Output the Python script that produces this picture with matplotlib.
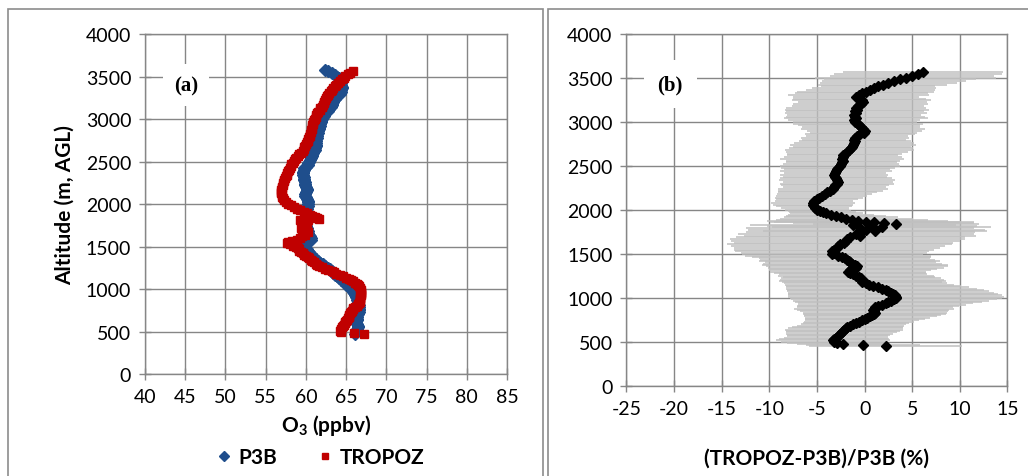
import matplotlib.pyplot as plt
from matplotlib.lines import Line2D
from matplotlib.patches import Rectangle

plt.rcParams['font.family'] = ['Lato', 'DejaVu Sans']
plt.rcParams['axes.unicode_minus'] = False
plt.rcParams['mathtext.fontset'] = 'custom'
plt.rcParams['mathtext.rm'] = 'Lato'
plt.rcParams['mathtext.bf'] = 'Lato:bold'

# ---- panel (a): O3 profiles (altitude m, ppbv) ----
p3b_alt = [3580, 3560, 3540, 3520, 3500, 3480, 3460, 3440, 3420, 3400, 3380, 3360, 3340, 3320, 3300,
           3280, 3260, 3240, 3220, 3200, 3180, 3160, 3140, 3120, 3100, 3080, 3060, 3040, 3020, 3000,
           2980, 2960, 2940, 2920, 2900, 2880, 2860, 2840, 2820, 2800, 2780, 2760, 2740, 2720, 2700,
           2680, 2660, 2640, 2620, 2600, 2580, 2560, 2540, 2520, 2500, 2480, 2460, 2440, 2420, 2400,
           2380, 2360, 2340, 2320, 2300, 2280, 2260, 2240, 2220, 2200, 2180, 2160, 2140, 2120, 2100,
           2080, 2060, 2040, 2020, 2000, 1980, 1960, 1940, 1920, 1900, 1880, 1860, 1840, 1820, 1800,
           1780, 1760, 1740, 1720, 1700, 1680, 1660, 1640, 1620, 1600, 1580, 1560, 1545, 1530, 1510,
           1490, 1470, 1450, 1430, 1410, 1390, 1370, 1350, 1330, 1310, 1290, 1270, 1250, 1230, 1210,
           1190, 1170, 1150, 1130, 1110, 1090, 1070, 1050, 1030, 1010, 990, 970, 950, 930, 910,
           890, 870, 850, 830, 810, 790, 770, 750, 730, 710, 690, 670, 650, 630, 610,
           590, 570, 550, 530, 510, 490, 470]
p3b_o3 = [62.4, 62.8, 63.2, 63.6, 63.9, 64.1, 64.2, 64.1, 64.3, 64.4, 64.5, 64.5, 64.4, 64.3, 64.2,
          64.0, 63.8, 63.6, 63.5, 63.4, 63.3, 63.2, 63.1, 62.9, 62.7, 62.5, 62.3, 62.2, 62.1, 62.0,
          61.9, 61.9, 61.8, 61.7, 61.6, 61.6, 61.5, 61.5, 61.4, 61.4, 61.4, 61.3, 61.3, 61.2, 61.2,
          61.2, 61.1, 61.1, 61.0, 60.9, 60.8, 60.7, 60.6, 60.5, 60.4, 60.3, 60.2, 60.0, 59.8, 59.7,
          59.6, 59.6, 59.6, 59.7, 59.7, 59.8, 59.9, 59.9, 59.9, 60.0, 60.1, 60.1, 60.0, 59.9, 59.9,
          60.0, 60.1, 60.2, 60.3, 60.2, 60.2, 60.1, 60.1, 60.0, 60.0, 60.1, 60.1, 60.0, 60.0, 60.0,
          59.9, 60.0, 60.0, 60.1, 60.1, 60.2, 60.3, 60.4, 60.5, 60.6, 60.6, 60.0, 59.4, 59.6, 59.8,
          59.9, 60.1, 60.2, 60.4, 60.6, 60.8, 61.0, 61.2, 61.5, 61.8, 62.1, 62.4, 62.7, 63.0, 63.2,
          63.4, 63.6, 63.9, 64.1, 64.4, 64.6, 64.8, 65.0, 65.2, 65.5, 65.7, 65.9, 66.0, 66.1, 66.2,
          66.3, 66.4, 66.5, 66.5, 66.6, 66.6, 66.6, 66.6, 66.6, 66.5, 66.4, 66.4, 66.4, 66.3, 66.2,
          66.3, 66.5, 66.5, 66.4, 66.3, 66.2, 66.1]

tropoz_alt = [3565, 3545, 3525, 3505, 3485, 3465, 3445, 3425, 3405, 3385, 3365, 3345, 3325, 3305, 3285,
              3265, 3245, 3225, 3205, 3185, 3165, 3145, 3125, 3105, 3085, 3065, 3045, 3025, 3005, 2985,
              2965, 2945, 2925, 2905, 2885, 2865, 2845, 2825, 2805, 2785, 2765, 2745, 2725, 2705, 2685,
              2665, 2645, 2625, 2605, 2585, 2565, 2545, 2525, 2505, 2485, 2465, 2445, 2425, 2405, 2385,
              2365, 2345, 2325, 2305, 2285, 2265, 2245, 2225, 2205, 2185, 2165, 2145, 2125, 2105, 2085,
              2065, 2045, 2025, 2005, 1985, 1965, 1945, 1925, 1905, 1890, 1875, 1860, 1845, 1830, 1820,
              1815, 1810, 1795, 1785, 1765, 1750, 1735, 1720, 1705, 1690, 1675, 1660, 1640, 1620, 1600,
              1580, 1565, 1550, 1540, 1525, 1510, 1495, 1480, 1465, 1450, 1435, 1420, 1405, 1390, 1375,
              1360, 1345, 1330, 1315, 1300, 1285, 1270, 1255, 1240, 1225, 1210, 1195, 1180, 1165, 1150,
              1135, 1120, 1105, 1090, 1075, 1060, 1045, 1030, 1015, 1000, 985, 970, 955, 940, 925,
              910, 895, 880, 865, 850, 835, 820, 805, 790, 775, 760, 745, 730, 715, 700,
              685, 670, 655, 640, 625, 610, 595, 580, 565, 550, 535, 520, 505, 490, 480, 465]
tropoz_o3 = [65.8, 65.5, 65.2, 64.9, 64.7, 64.5, 64.2, 64.0, 63.8, 63.6, 63.4, 63.3, 63.1, 62.9, 62.8,
             62.6, 62.5, 62.4, 62.3, 62.2, 62.1, 62.0, 61.8, 61.7, 61.5, 61.4, 61.3, 61.2, 61.1, 61.0,
             60.9, 60.9, 60.8, 60.8, 60.7, 60.6, 60.6, 60.5, 60.5, 60.4, 60.3, 60.2, 60.1, 60.0, 59.9,
             59.8, 59.7, 59.6, 59.4, 59.2, 59.0, 58.8, 58.6, 58.5, 58.4, 58.2, 58.1, 58.0, 57.9, 57.8,
             57.7, 57.6, 57.5, 57.4, 57.3, 57.3, 57.2, 57.1, 57.0, 57.0, 56.9, 56.9, 56.9, 57.0, 57.0,
             57.1, 57.3, 57.5, 57.8, 58.1, 58.5, 58.9, 59.3, 59.7, 60.1, 60.5, 60.8, 61.1, 61.4, 61.6,
             60.3, 59.3, 59.6, 60.0, 59.5, 60.1, 59.8, 59.4, 60.0, 59.7, 60.2, 59.6, 59.9, 59.5, 59.3,
             58.9, 58.3, 57.8, 57.6, 58.0, 58.4, 58.8, 59.0, 59.1, 59.2, 59.4, 59.6, 59.8, 60.0, 60.2,
             60.4, 60.6, 60.8, 61.0, 61.2, 61.4, 61.6, 62.0, 62.4, 62.8, 63.2, 63.5, 63.8, 64.2, 64.6,
             65.0, 65.3, 65.6, 65.9, 66.1, 66.3, 66.5, 66.6, 66.7, 66.7, 66.8, 66.8, 66.8, 66.8, 66.8,
             66.7, 66.7, 66.7, 66.7, 66.7, 66.6, 66.5, 66.3, 66.1, 65.9, 65.8, 65.7, 65.6, 65.5, 65.4,
             65.3, 65.3, 65.2, 65.1, 65.0, 64.9, 64.8, 64.7, 64.6, 64.5, 64.4, 64.3, 64.2, 64.4, 66.0, 67.2]

# ---- panel (b): relative difference (%) with uncertainty ----
diff_alt = [3565, 3545, 3525, 3505, 3485, 3465, 3445, 3425, 3405, 3385, 3365, 3345, 3325, 3305, 3285,
            3265, 3245, 3225, 3200, 3180, 3160, 3140, 3120, 3100, 3080, 3060, 3040, 3020, 3000, 2980,
            2960, 2940, 2920, 2900, 2880, 2860, 2840, 2820, 2800, 2780, 2760, 2740, 2720, 2700, 2680,
            2660, 2640, 2620, 2600, 2580, 2560, 2540, 2520, 2500, 2480, 2460, 2440, 2420, 2400, 2380,
            2360, 2340, 2320, 2300, 2280, 2260, 2240, 2220, 2200, 2180, 2160, 2140, 2120, 2100, 2080,
            2060, 2040, 2020, 2005, 1990, 1975, 1960, 1945, 1930, 1915, 1900, 1885, 1870, 1865, 1860,
            1850, 1840, 1830, 1820, 1805, 1790, 1775, 1760, 1745, 1725, 1705, 1690, 1670, 1650, 1630,
            1610, 1590, 1570, 1550, 1530, 1510, 1495, 1480, 1465, 1450, 1435, 1420, 1405, 1390, 1375,
            1360, 1345, 1330, 1315, 1300, 1285, 1270, 1255, 1240, 1225, 1210, 1195, 1180, 1165, 1150,
            1135, 1120, 1105, 1090, 1075, 1060, 1045, 1030, 1015, 1000, 985, 970, 955, 940, 925,
            910, 895, 880, 865, 850, 835, 820, 805, 790, 775, 760, 745, 730, 715, 700,
            685, 670, 655, 640, 625, 610, 595, 580, 565, 550, 535, 520, 505, 490, 475, 465, 450]
diff_pct = [6.1, 5.6, 5.0, 4.3, 3.7, 3.1, 2.5, 1.9, 1.4, 1.0, 0.6, 0.1, -0.3, -0.6, -0.9,
            -0.5, -0.3, -0.2, -0.4, -0.7, -0.9, -0.8, -1.0, -0.9, -1.1, -1.0, -0.9, -1.1, -1.0, -0.7,
            -0.6, -0.4, -0.2, 0.0, -0.1, -0.5, -0.8, -1.0, -1.1, -1.0, -1.1, -1.2, -1.3, -1.4, -1.6,
            -1.8, -2.1, -2.3, -2.3, -2.4, -2.3, -2.4, -2.5, -2.6, -2.8, -2.9, -3.0, -3.1, -3.2, -3.1,
            -3.0, -2.9, -2.8, -2.9, -3.1, -3.2, -3.3, -3.6, -3.9, -4.2, -4.5, -4.8, -5.0, -5.3, -5.4,
            -5.4, -5.3, -5.2, -5.0, -4.7, -4.4, -4.0, -3.5, -3.0, -2.5, -1.9, -1.3, -0.7, 0.1, 1.0,
            2.0, 3.3, -1.2, 0.8, 1.8, -0.5, 0.2, 1.1, -0.4, -0.9, -0.5, -1.5, -1.8, -2.0, -2.2,
            -2.6, -2.8, -2.9, -3.2, -3.4, -3.2, -3.4, -2.8, -2.4, -2.1, -1.8, -1.6, -1.5, -1.3, -1.0,
            -0.8, -0.9, -1.2, -1.5, -1.7, -1.5, -1.2, -0.9, -0.6, -0.4, -0.3, -0.2, -0.3, 0.1, 0.5,
            0.9, 1.4, 1.8, 2.2, 2.5, 2.8, 3.0, 3.2, 3.3, 3.3, 3.1, 2.8, 2.5, 2.2, 1.8,
            1.4, 1.1, 1.0, 0.9, 1.0, 1.1, 1.0, 0.8, 0.6, 0.3, 0.0, -0.3, -0.6, -0.9, -1.2,
            -1.5, -1.8, -2.0, -2.2, -2.3, -2.4, -2.6, -2.7, -2.8, -3.0, -3.2, -3.3, -3.2, -2.9, -2.3, -0.2, 2.2]
diff_err = [8.4, 8.8, 8.6, 9.5, 8.0, 7.6, 7.2, 6.8, 6.0, 6.5, 6.8, 7.2, 7.0, 7.4, 6.6,
            7.0, 7.3, 6.8, 7.1, 6.9, 7.4, 7.6, 7.2, 7.5, 7.0, 7.3, 7.6, 6.9, 6.5, 6.8,
            6.4, 6.2, 6.5, 6.0, 5.6, 5.8, 5.4, 5.7, 5.5, 5.9, 6.3, 6.6, 6.2, 6.5, 6.8,
            6.4, 6.0, 5.8, 6.2, 6.5, 6.0, 5.8, 6.1, 6.3, 6.0, 5.6, 5.9, 5.4, 5.7, 5.5,
            5.9, 6.1, 5.8, 6.0, 5.7, 5.4, 5.8, 5.5, 5.2, 5.0, 4.8, 4.6, 4.3, 4.1, 4.4,
            4.2, 4.0, 3.6, 3.4, 3.3, 3.5, 3.8, 4.5, 5.2, 6.0, 7.0, 8.0, 9.5, 10.0, 10.5,
            9.5, 8.7, 10.8, 11.0, 11.5, 12.0, 12.4, 11.8, 12.0, 12.4, 12.2, 12.0, 12.3, 12.0, 11.5,
            11.8, 11.2, 10.8, 10.5, 10.2, 9.8, 9.5, 9.8, 9.4, 9.0, 9.2, 9.5, 9.0, 9.4, 9.8,
            9.6, 9.2, 8.8, 8.5, 8.2, 8.0, 7.8, 8.2, 8.0, 8.4, 8.6, 8.8, 8.4, 8.6, 8.9,
            9.2, 9.6, 10.0, 10.3, 10.6, 10.8, 11.0, 11.2, 11.3, 11.1, 10.8, 10.3, 9.8, 9.2, 8.8,
            8.5, 8.2, 8.4, 8.0, 7.8, 7.6, 7.5, 7.2, 7.0, 6.6, 6.3, 6.0, 5.8, 5.6, 5.5,
            5.6, 5.8, 6.0, 6.2, 6.0, 5.8, 5.6, 5.4, 5.3, 5.5, 5.8, 6.0, 5.6, 5.2, 4.8, 6.0, 8.0]

grid_c = '#868686'
tick_fs = 14

fig = plt.figure(figsize=(10.28, 4.77), dpi=100)

# panel frames
fig.patches.append(Rectangle((0.0078, -0.05), 0.5204, 1.029, transform=fig.transFigure,
                             fill=False, edgecolor='#8c8c8c', lw=1.2))
fig.patches.append(Rectangle((0.5326, -0.05), 0.52, 1.029, transform=fig.transFigure,
                             fill=False, edgecolor='#8c8c8c', lw=1.2))


def style_axes(ax):
    for sp in ax.spines.values():
        sp.set_color(grid_c)
        sp.set_linewidth(1)
    ax.grid(True, color=grid_c, lw=1)
    ax.set_axisbelow(True)
    ax.tick_params(direction='inout', length=8, width=1, color=grid_c,
                   labelsize=tick_fs, pad=6)


# (a)
ax1 = fig.add_axes([0.1411, 0.2138, 0.3521, 0.7128])
ax1.plot(p3b_o3, p3b_alt, 'D', color='#1F4E8C', ms=6, mec='#1F4E8C', lw=0)
ax1.plot(tropoz_o3, tropoz_alt, 's', color='#C00000', ms=6, mec='#C00000', lw=0)
ax1.set_xlim(40, 85)
ax1.set_ylim(0, 4000)
ax1.set_xticks(range(40, 86, 5))
ax1.set_yticks(range(0, 4001, 500))
style_axes(ax1)
ax1.set_xlabel(r'O$_\mathbf{3}$ (ppbv)', fontsize=15, fontweight='bold', labelpad=5)
ax1.set_ylabel('Altitude (m, AGL)', fontsize=15, fontweight='bold', labelpad=8)
ax1.text(45.1, 3400, '(a)', fontsize=15, fontweight='bold', family='Liberation Serif',
         ha='center', va='center', bbox=dict(fc='white', ec='none', pad=8))

handles = [Line2D([], [], ls='none', marker='D', color='#1F4E8C', ms=5),
           Line2D([], [], ls='none', marker='s', color='#C00000', ms=5)]
fig.legend(handles, ['P3B', 'TROPOZ'], loc='center', bbox_to_anchor=(0.31, 0.04), ncol=2,
           frameon=False, prop={'size': 15, 'weight': 'bold'}, handletextpad=0.2,
           columnspacing=1.8, handlelength=1.0)

# (b)
ax2 = fig.add_axes([0.6094, 0.1887, 0.3706, 0.738])
ax2.errorbar(diff_pct, diff_alt, xerr=diff_err, fmt='none', ecolor='#c0c0c0',
             elinewidth=1.1, capsize=0, zorder=2)
ax2.plot(diff_pct, diff_alt, 'D', color='black', ms=5.5, lw=0, zorder=3)
ax2.set_xlim(-25, 15)
ax2.set_ylim(0, 4000)
ax2.set_xticks(range(-25, 16, 5))
ax2.set_yticks(range(0, 4001, 500))
style_axes(ax2)
ax2.set_xlabel('(TROPOZ-P3B)/P3B (%)', fontsize=15, fontweight='bold', labelpad=22)
ax2.text(-20.4, 3430, '(b)', fontsize=15, fontweight='bold', family='Liberation Serif',
         ha='center', va='center', bbox=dict(fc='white', ec='none', pad=10), zorder=4)

fig.savefig('out.png', dpi=100)
